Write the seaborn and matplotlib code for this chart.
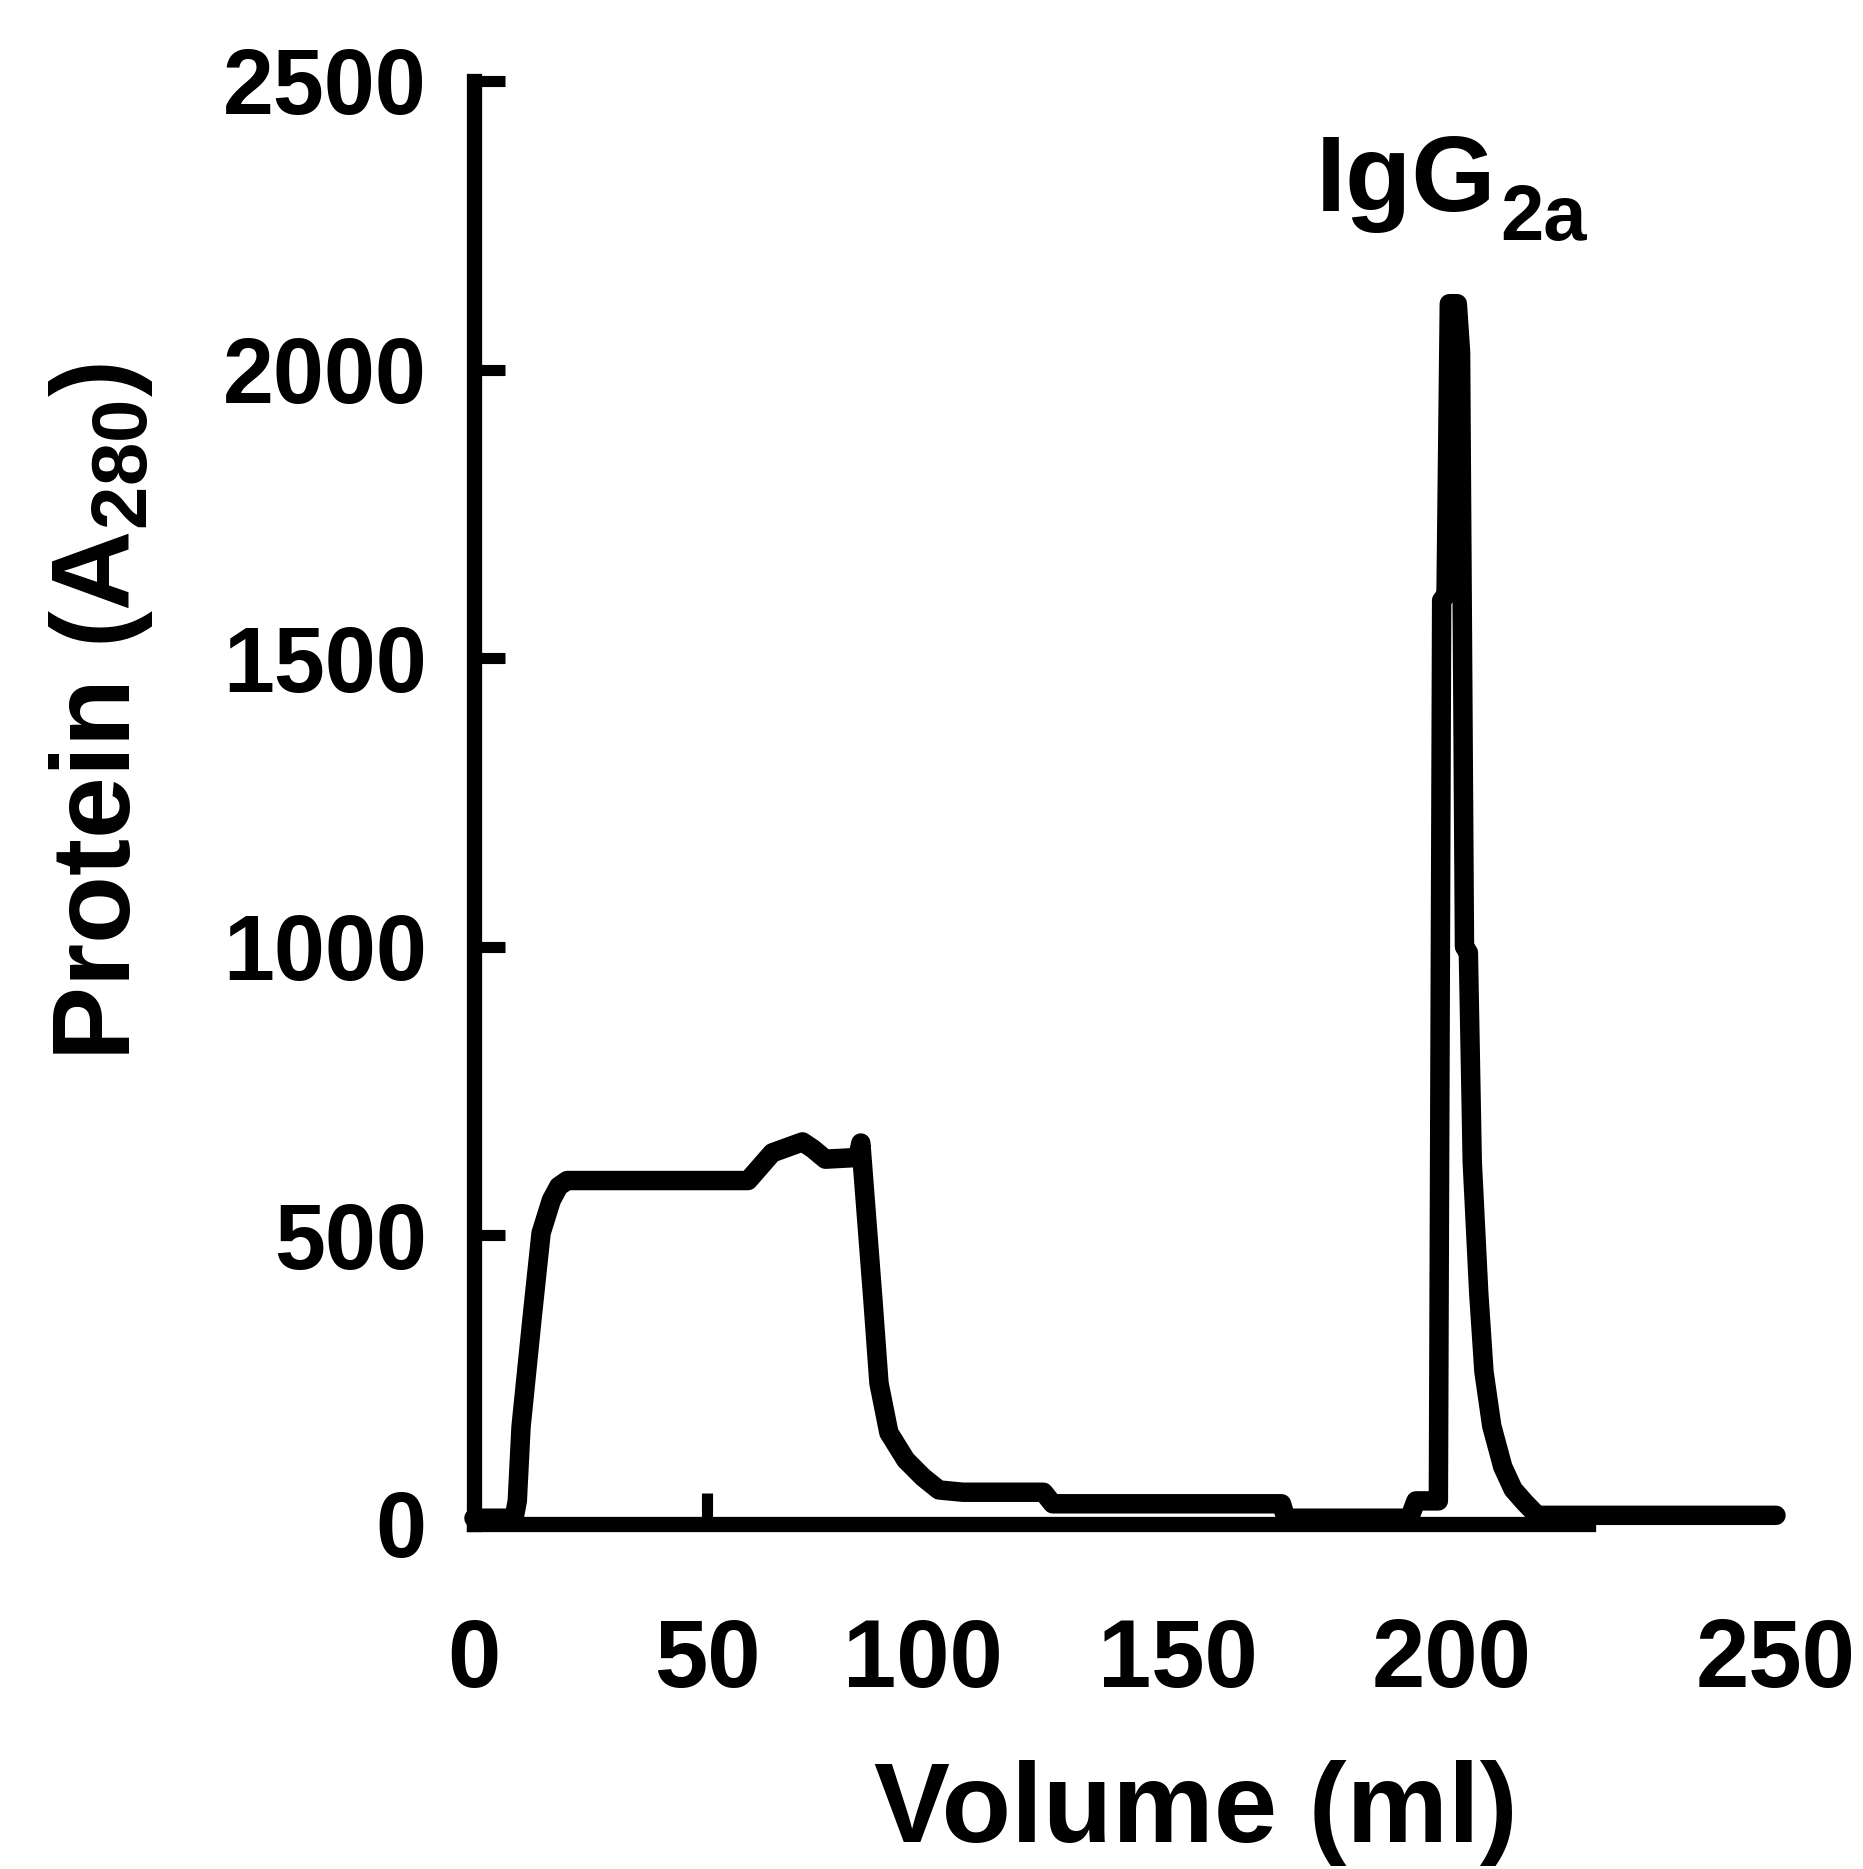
import numpy as np
import matplotlib
matplotlib.use('Agg')
import matplotlib.pyplot as plt
import seaborn as sns

# elution profile (ml, A280)
volume = [0, 8.6, 9.3, 10.1, 12.5, 14.4, 16.6, 18.2, 20.0, 59.5, 65.1, 72.1, 74.5,
          77.4, 84.9, 85.6, 88.4, 89.8, 92.1, 96.0, 100.0, 103.1, 107.8, 123.6,
          125.4, 168.9, 169.7, 192.3, 193.5, 197.6, 198.2, 199.0, 199.6, 200.9,
          201.4, 202.0, 202.6, 203.2, 204.2, 205.0, 206.2, 207.9, 209.5, 211.3,
          213.2, 250]
a280 = [10, 10, 40, 168, 359, 504, 561, 585, 595, 595, 643, 662, 650,
        632, 635, 660, 388, 244, 158, 111, 81, 59, 55, 55,
        35, 35, 10, 10, 40, 40, 1600, 1610, 2114, 2114,
        2030, 1000, 990, 627, 400, 264, 170, 99, 60, 37,
        15, 15]

xticks = [0, 50, 100, 150, 200, 250]
yticks = [0, 500, 1000, 1500, 2000, 2500]
peak_name = 'IgG'
peak_sub = '2a'

# the x axis of the original is unevenly stretched, so map each labelled tick
# onto where it sits in the scan (pixels) with a piecewise linear scale
scan_px = [480, 712, 927, 1181, 1453, 1776]


def warp(v):
    return np.interp(v, xticks, scan_px)


def unwarp(v):
    return np.interp(v, scan_px, xticks)


sns.set_style('ticks')
plt.rcParams['font.family'] = ['Liberation Sans', 'DejaVu Sans']
plt.rcParams['font.weight'] = 'bold'
plt.rcParams['mathtext.fontset'] = 'custom'
plt.rcParams['mathtext.rm'] = 'Liberation Sans:bold'
plt.rcParams['mathtext.it'] = 'Liberation Sans:bold'
plt.rcParams['mathtext.bf'] = 'Liberation Sans:bold'
for key in ['text.color', 'axes.labelcolor', 'xtick.color', 'ytick.color', 'axes.edgecolor']:
    plt.rcParams[key] = 'black'

fig = plt.figure(figsize=(18.63, 18.69), dpi=100)
ax = fig.add_axes([0.2544, 0.1846, 0.6989, 0.7721])

sns.lineplot(x=volume, y=a280, ax=ax, color='black', linewidth=14,
             estimator=None, sort=False, clip_on=False)

ax.set_xscale('function', functions=(warp, unwarp))
ax.set_xlim(0, 250)
ax.set_ylim(0, 2500)
ax.set_xticks(xticks)
ax.set_xticklabels([str(t) for t in xticks])
ax.set_yticks(yticks)
ax.set_yticklabels([str(t) for t in yticks])
# only the 50 ml tick shows in the original
for i, tk in enumerate(ax.xaxis.get_major_ticks()):
    if i not in (0, 1):
        tk.tick1line.set_visible(False)

sns.despine(ax=ax)
for side in ['left', 'bottom']:
    ax.spines[side].set_linewidth(11)
    ax.spines[side].set_color('black')
ax.spines['bottom'].set_bounds(0, 221)

ax.tick_params(axis='both', direction='in', length=22, width=8, color='black')
ax.tick_params(axis='x', labelsize=69, pad=67)
ax.tick_params(axis='y', labelsize=66, pad=34)

ax.set_xlabel('Volume (ml)', fontsize=82, fontweight='bold')
ax.set_ylabel('Protein (A$_{280}$)', fontsize=80, fontweight='bold')
ax.xaxis.set_label_coords(0.5545, -0.1635)
ax.yaxis.set_label_coords(-0.245, 0.5627)

name = ax.text(175.2, 2275, peak_name, fontsize=78, fontweight='bold',
               ha='left', va='baseline')
ax.annotate(peak_sub, xy=(1, 0), xycoords=name, xytext=(3, -5),
            textcoords='offset points', fontsize=56, fontweight='bold',
            ha='left', va='baseline')

fig.savefig('out.png', dpi=100)
